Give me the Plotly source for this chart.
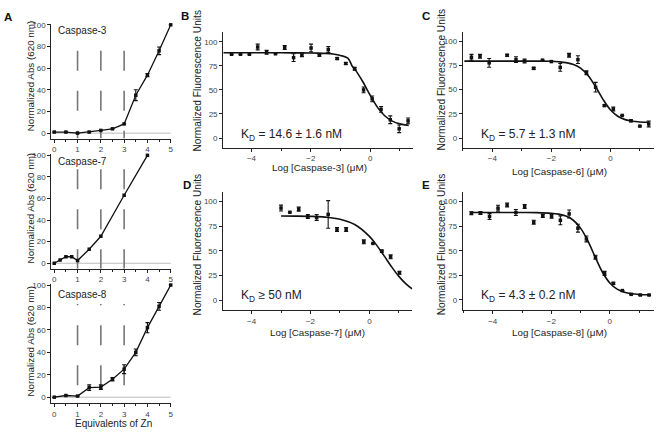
import plotly.graph_objects as go

W, H = 663, 432
FONT = "Liberation Sans, Arial, sans-serif"

# ---------------- Panel A data (Equivalents of Zn) ----------------
zn_c3 = [0, 0.5, 1, 1.5, 2, 2.5, 3, 3.5, 4, 4.5, 5]
abs_c3 = [1, 1, 0, 1, 2.5, 4, 8.5, 35, 53.5, 76, 100]
err_c3 = [0, 0, 0, 0, 0, 0, 0, 5, 1.5, 3.5, 0]

zn_c7 = [0, 0.25, 0.5, 0.75, 1, 1.5, 2, 3, 4]
abs_c7 = [0, 3, 6, 6, 2.5, 13, 25, 63, 100]

zn_c8 = [0, 0.5, 1, 1.5, 2, 2.5, 3, 3.5, 4, 4.5, 5]
abs_c8 = [0, 1.5, 1, 8.5, 9, 16, 25, 40, 62, 81, 100]
err_c8 = [0, 0, 0, 2.5, 2, 1.5, 4, 3, 4.5, 3.5, 0]

zn_marks = [1, 2, 3]
a_ticks = [0, 1, 2, 3, 4, 5]
a_yticks = [0, 20, 40, 60, 80, 100]

# ---------------- Panel B: Caspase-3 ----------------
b_x = [-4.67, -4.37, -4.07, -3.79, -3.49, -3.19, -2.88, -2.58, -2.30, -1.99, -1.71,
       -1.41, -1.11, -0.82, -0.52, -0.22, 0.07, 0.37, 0.68, 0.98, 1.28]
b_y = [87, 87, 87, 94.5, 89, 87.5, 94, 83.5, 86, 93.5, 86,
       92, 82.5, 77.4, 72, 50, 40.7, 29.8, 19, 9.6, 17.8]
b_err = [0, 0, 0, 3, 2, 0, 2, 4, 1.5, 4, 1,
         3, 1, 1, 1.5, 3, 3, 3, 4, 4, 3]
b_fit_x = [-4.95, -4, -3, -2.5, -2, -1.75, -1.5, -1.25, -1.0, -0.75, -0.6, -0.5, -0.25, 0, 0.25, 0.5, 0.75, 1.0, 1.3]
b_fit_y = [88.5, 88.5, 88.5, 88.44, 88.36, 88.2, 87.87, 87.18, 85.76, 82.93, 74.5, 70.76, 58.7, 44.57, 31.86, 22.89, 17.57, 14.74, 13.14]

# ---------------- Panel C: Caspase-6 ----------------
c_x = [-4.71, -4.42, -4.11, -3.50, -3.20, -2.91, -2.60, -2.30, -2.00, -1.70,
       -1.40, -1.10, -0.81, -0.50, -0.20, 0.10, 0.40, 0.70, 1.00, 1.30]
c_y = [83.5, 84.5, 77.7, 85.5, 81, 79.5, 72, 80.5, 79, 73,
       85.5, 81, 67.5, 52.5, 33.5, 30, 23.3, 17.8, 12.3, 14.5]
c_err = [3, 2, 4.5, 1, 3, 2, 1, 0, 0, 4,
         2, 4, 2, 5, 1, 2, 0, 1, 0, 3]
c_fit_x = [-4.95, -4, -3, -2.5, -2, -1.75, -1.5, -1.25, -1.0, -0.75, -0.5, -0.25, 0, 0.25, 0.5, 0.75, 1.0, 1.3]
c_fit_y = [79.5, 79.5, 79.5, 79.45, 79.3, 78.81, 77.93, 75.98, 71.95, 64.44, 53.0, 39.96, 29.23, 22.51, 19.0, 17.34, 16.59, 16.22]

# ---------------- Panel D: Caspase-7 ----------------
d_x = [-3.0, -2.70, -2.40, -2.09, -1.79, -1.40, -1.10, -0.79, -0.19, 0.12, 0.42, 0.72, 1.02]
d_y = [93.5, 89.2, 92.4, 85, 84, 87, 71.7, 71.7, 59.2, 57.6, 49.8, 44, 27.9]
d_err = [3, 0, 2, 2, 3, 14, 2, 2, 2, 0, 1, 2, 1.5]
d_fit_x = [-3, -2.5, -2, -1.5, -1, -0.5, 0, 0.25, 0.5, 0.75, 1.0, 1.25, 1.45]
d_fit_y = [85.45, 85.35, 85.07, 84.3, 82.19, 76.78, 64.78, 55.63, 44.96, 34.01, 24.15, 16.24, 11.47]

# ---------------- Panel E: Caspase-8 ----------------
e_x = [-4.73, -4.42, -4.11, -3.82, -3.51, -3.21, -2.91, -2.60, -2.29, -1.99,
       -1.69, -1.39, -1.09, -0.80, -0.49, -0.18, 0.12, 0.43, 0.73, 1.04, 1.34]
e_y = [88.2, 88.5, 84.8, 93.3, 96.6, 88.9, 95, 79, 85.5, 85,
       81, 87.5, 73, 62, 43.4, 27, 16.8, 9.5, 5.7, 5, 5]
e_err = [1.5, 1.5, 3, 3, 2, 3, 2, 2, 1.5, 2,
         4.5, 4, 4, 3, 2, 2, 1, 0, 0.5, 0.5, 0.5]
e_fit_x = [-4.75, -4, -3, -2.5, -2, -1.75, -1.5, -1.25, -1.0, -0.75, -0.5, -0.25, 0, 0.25, 0.5, 0.75, 1.0, 1.34]
e_fit_y = [89, 89, 88.97, 88.84, 88.22, 87.28, 85.25, 81.04, 73.05, 60.09, 43.62, 28.14, 17.2, 10.92, 7.75, 6.25, 5.56, 5.2]

kd_ticks = [-4, -2, 0]
kd_yticks = [0, 25, 50, 75, 100]


def px(x):
    return x / W


def py(y):
    return 1 - y / H


fig = go.Figure()

AXLINE = "#222"
TICKC = "#444"


def base_axis(**kw):
    d = dict(showline=True, linecolor=AXLINE, linewidth=1.3, ticks="outside", ticklen=3,
             tickwidth=1, tickcolor=AXLINE, tickfont=dict(size=8, color=TICKC, family=FONT),
             showgrid=False, zeroline=False, fixedrange=True)
    d.update(kw)
    return d


layout = dict(width=W, height=H, margin=dict(l=0, r=0, t=0, b=0), autosize=False,
              paper_bgcolor="white", plot_bgcolor="white", showlegend=False,
              font=dict(family=FONT, color="#222"))

# Panel A axes
a_dom = [(20.9, 136.5), (152.3, 267.5), (282.9, 402.6)]
for i, (top, bot) in enumerate(a_dom, start=1):
    sfx = "" if i == 1 else str(i)
    layout["xaxis" + sfx] = base_axis(domain=[px(51.7), px(171.5)], range=[-0.12, 5.0],
                                      tickvals=a_ticks, anchor="y" + sfx, ticklen=3,
                                      minor=dict(tickvals=[0.5, 1.5, 2.5, 3.5, 4.5], ticks="outside",
                                                 ticklen=2, tickcolor=AXLINE))
    layout["yaxis" + sfx] = base_axis(domain=[py(bot), py(top)], range=[-5, 101],
                                      tickvals=a_yticks, anchor="x" + sfx)

# Panels B-E axes
kd_axes = {
    4: dict(xd=(224.3, 415.0), xr=[-4.95, 1.45], yd=(29.3, 145.7)),
    5: dict(xd=(465.0, 656.7), xr=[-5.0, 1.47], yd=(28.8, 145.7)),
    6: dict(xd=(224.0, 414.0), xr=[-4.97, 1.45], yd=(190.1, 309.2)),
    7: dict(xd=(465.0, 656.7), xr=[-5.02, 1.5], yd=(190.1, 308.9)),
}
for i, a in kd_axes.items():
    s = str(i)
    layout["xaxis" + s] = base_axis(domain=[px(a["xd"][0]), px(a["xd"][1])], range=a["xr"],
                                    tickvals=kd_ticks, anchor="y" + s,
                                    minor=dict(tickvals=[-5, -3, -1, 1], ticks="outside",
                                               ticklen=2, tickcolor=AXLINE))
    layout["yaxis" + s] = base_axis(domain=[py(a["yd"][1]), py(a["yd"][0])], range=[-10, 110],
                                    tickvals=kd_yticks, anchor="x" + s)

fig.update_layout(**layout)

MK = dict(symbol="square", size=3.5, color="#111")
EB = dict(type="data", thickness=1.1, width=2, color="#111")

# Panel A traces
fig.add_trace(go.Scatter(x=zn_c3, y=abs_c3, mode="lines+markers", marker=MK,
                         line=dict(color="#111", width=1.3), error_y=dict(array=err_c3, **EB),
                         xaxis="x", yaxis="y", cliponaxis=False))
fig.add_trace(go.Scatter(x=zn_c7, y=abs_c7, mode="lines+markers", marker=MK,
                         line=dict(color="#111", width=1.3),
                         xaxis="x2", yaxis="y2", cliponaxis=False))
fig.add_trace(go.Scatter(x=zn_c8, y=abs_c8, mode="lines+markers", marker=MK,
                         line=dict(color="#111", width=1.3), error_y=dict(array=err_c8, **EB),
                         xaxis="x3", yaxis="y3", cliponaxis=False))

# Panels B-E traces
for s, fx, fy, xs, ys, es in [("4", b_fit_x, b_fit_y, b_x, b_y, b_err),
                              ("5", c_fit_x, c_fit_y, c_x, c_y, c_err),
                              ("6", d_fit_x, d_fit_y, d_x, d_y, d_err),
                              ("7", e_fit_x, e_fit_y, e_x, e_y, e_err)]:
    fig.add_trace(go.Scatter(x=fx, y=fy, mode="lines", line=dict(color="#111", width=1.6, shape="spline"),
                             xaxis="x" + s, yaxis="y" + s, cliponaxis=False))
    fig.add_trace(go.Scatter(x=xs, y=ys, mode="markers", marker=MK,
                             error_y=dict(array=es, **EB),
                             xaxis="x" + s, yaxis="y" + s, cliponaxis=False))

shapes = []
for sfx in ["", "2", "3"]:
    shapes.append(dict(type="line", xref="x" + sfx + " domain", x0=0, x1=1, yref="y" + sfx, y0=0, y1=0,
                       line=dict(color="#bbb", width=1), layer="below"))
dash_spans = [("", 76.1, -5), ("2", 87.1, -5), ("3", 10.6, 83.2)]
for sfx, y0, y1 in dash_spans:
    for xv in zn_marks:
        shapes.append(dict(type="line", xref="x" + sfx, x0=xv, x1=xv, yref="y" + sfx, y0=y0, y1=y1,
                           line=dict(color="#777", width=1.6, dash="20px,20px"), layer="below"))
fig.update_layout(shapes=shapes)

ann = []


def text(x, y, t, size=9.5, angle=0, xanchor="center", bold=False, color="#222"):
    ann.append(dict(x=px(x), y=py(y), xref="paper", yref="paper", text=("<b>%s</b>" % t) if bold else t,
                    showarrow=False, textangle=angle, xanchor=xanchor, yanchor="middle",
                    font=dict(size=size, color=color, family=FONT)))


text(8, 14, "A", 11.5, bold=True, color="#111")
text(186, 13, "B", 11.5, bold=True, color="#111")
text(428, 13, "C", 11.5, bold=True, color="#111")
text(188, 183, "D", 11.5, bold=True, color="#111")
text(428, 183, "E", 11.5, bold=True, color="#111")

for yy, lab in [(28, "Caspase-3"), (160, "Caspase-7"), (294, "Caspase-8")]:
    text(56, yy, lab, 10, xanchor="left")
for yc in [73, 206, 340]:
    text(31, yc, "Normalized Abs (620 nm)", 9.8, angle=-90)
text(114, 423, "Equivalents of Zn", 10)

text(198, 78, "Normalized Fluorescence Units", 10.2, angle=-90)
text(443, 77, "Normalized Fluorescence Units", 10.2, angle=-90)
text(198, 243, "Normalized Fluorescence Units", 10.2, angle=-90)
text(443, 243, "Normalized Fluorescence Units", 10.2, angle=-90)
text(321, 165.5, "Log [Caspase-3] (μM)", 9.8)
text(562, 170, "Log [Caspase-6] (μM)", 9.8)
text(319, 331.5, "Log [Caspase-7] (μM)", 9.8)
text(562, 331.5, "Log [Caspase-8] (μM)", 9.8)

text(240, 133, "K<sub>D</sub> = 14.6 ± 1.6 nM", 12, xanchor="left")
text(481, 133, "K<sub>D</sub> = 5.7 ± 1.3 nM", 12, xanchor="left")
text(240, 295, "K<sub>D</sub> ≥ 50 nM", 12, xanchor="left")
text(481, 295, "K<sub>D</sub> = 4.3 ± 0.2 nM", 12, xanchor="left")

fig.update_layout(annotations=ann)

fig.write_html("out.html", config={"displayModeBar": False},
               post_script="document.body.style.margin='0';document.body.style.overflow='hidden';")
